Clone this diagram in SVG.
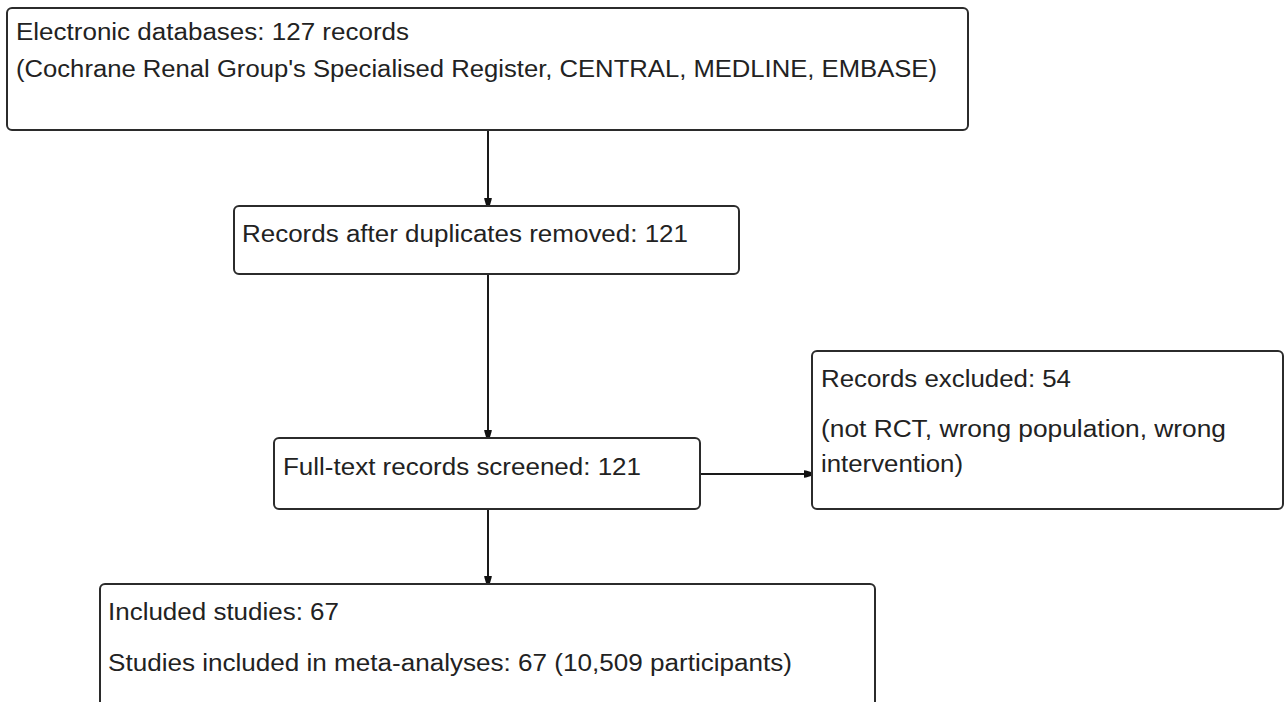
<svg xmlns="http://www.w3.org/2000/svg" width="1285" height="702" viewBox="0 0 1285 702">
  <style>
    .box { fill: #ffffff; stroke: #2b2b2b; stroke-width: 2; }
    .label { font-family: "Liberation Sans", Arial, sans-serif; font-size: 23px; fill: #222222; }
    .edge { stroke: #1a1a1a; stroke-width: 2; fill: none; marker-end: url(#head); }
  </style>
  <defs>
    <marker id="head" viewBox="-7 -6 14 12" refX="0" refY="0" markerWidth="14" markerHeight="12" markerUnits="userSpaceOnUse" orient="auto">
      <!-- blunt, slightly flared head pointing along +x -->
      <path d="M-11,-4.5 L-11,4.5 L-5,3.5 L0,2 L0,-2 L-5,-3.5 Z" fill="#111111"/>
    </marker>
  </defs>
  <rect width="1285" height="702" fill="#ffffff"/>

  <g id="connectors">
    <line class="edge" x1="488" y1="130" x2="488" y2="205"/>
    <line class="edge" x1="488" y1="274" x2="488" y2="437"/>
    <line class="edge" x1="488" y1="509" x2="488" y2="583"/>
    <line class="edge" x1="701" y1="474" x2="811" y2="474"/>
  </g>

  <g id="databases">
    <rect class="box" x="7" y="8" width="961" height="122" rx="5"/>
    <text class="label" x="16" y="40" textLength="393" lengthAdjust="spacingAndGlyphs">Electronic databases: 127 records</text>
    <text class="label" x="16" y="77" textLength="921" lengthAdjust="spacingAndGlyphs">(Cochrane Renal Group's Specialised Register, CENTRAL, MEDLINE, EMBASE)</text>
  </g>

  <g id="deduplicated">
    <rect class="box" x="234" y="206" width="505" height="68" rx="5"/>
    <text class="label" x="242" y="242" textLength="446" lengthAdjust="spacingAndGlyphs">Records after duplicates removed: 121</text>
  </g>

  <g id="screened">
    <rect class="box" x="274" y="438" width="426" height="71" rx="5"/>
    <text class="label" x="283" y="475" textLength="358" lengthAdjust="spacingAndGlyphs">Full-text records screened: 121</text>
  </g>

  <g id="excluded">
    <rect class="box" x="812" y="351" width="471" height="158" rx="5"/>
    <text class="label" x="821" y="387" textLength="250" lengthAdjust="spacingAndGlyphs">Records excluded: 54</text>
    <text class="label" x="821" y="437" textLength="405" lengthAdjust="spacingAndGlyphs">(not RCT, wrong population, wrong</text>
    <text class="label" x="821" y="472" textLength="142" lengthAdjust="spacingAndGlyphs">intervention)</text>
  </g>

  <g id="included">
    <rect class="box" x="100" y="584" width="775" height="140" rx="5"/>
    <text class="label" x="108" y="620" textLength="231" lengthAdjust="spacingAndGlyphs">Included studies: 67</text>
    <text class="label" x="108" y="671" textLength="684" lengthAdjust="spacingAndGlyphs">Studies included in meta-analyses: 67 (10,509 participants)</text>
  </g>
</svg>
